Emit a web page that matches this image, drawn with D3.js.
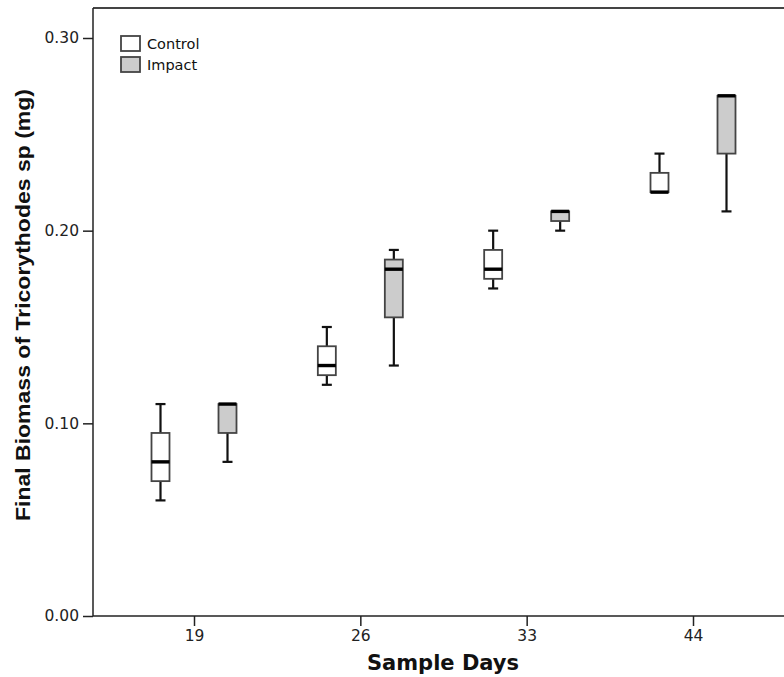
<!DOCTYPE html>
<html>
<head>
<meta charset="utf-8">
<script src="https://cdn.jsdelivr.net/npm/d3@7"></script>
<style>
  html, body { margin: 0; padding: 0; background: #fff; }
  svg { display: block; }
</style>
</head>
<body>
<svg id="chart" width="784" height="677"></svg>
<script>
// Sample days on the x axis
const days = ["19", "26", "33", "44"];
const groups = ["Control", "Impact"];

// Five-number summaries per day: [min, q1, median, q3, max]
const controlStats = [
  [0.06, 0.07, 0.08, 0.095, 0.11],
  [0.12, 0.125, 0.13, 0.14, 0.15],
  [0.17, 0.175, 0.18, 0.19, 0.20],
  [0.22, 0.22, 0.22, 0.23, 0.24]
];
const impactStats = [
  [0.08, 0.095, 0.11, 0.11, 0.11],
  [0.13, 0.155, 0.18, 0.185, 0.19],
  [0.20, 0.205, 0.21, 0.21, 0.21],
  [0.21, 0.24, 0.27, 0.27, 0.27]
];
const yTicks = [0, 0.10, 0.20, 0.30];

const fills = { Control: "#ffffff", Impact: "#cccccc" };

const svg = d3.select("#chart");
const plot = { left: 93, top: 8, bottom: 616, right: 800 };

const y = d3.scaleLinear().domain([0, 0.30]).range([plot.bottom, 38]);
const x = d3.scalePoint().domain(days).range([194, 693]);
const offset = d3.scalePoint().domain(groups).range([-33.5, 33.5]);
const boxW = 18, capW = 10;

// Frame: top edge and clipped right side
svg.append("line")
  .attr("x1", plot.left).attr("x2", plot.right)
  .attr("y1", plot.top).attr("y2", plot.top)
  .attr("stroke", "#444").attr("stroke-width", 2);

// Y axis
const yAxis = d3.axisLeft(y).tickValues(yTicks).tickFormat(d3.format(".2f"))
  .tickSize(10).tickSizeOuter(0).tickPadding(4);
const gy = svg.append("g").attr("transform", `translate(${plot.left},0)`).call(yAxis);
gy.select(".domain").remove();
gy.selectAll(".tick line").attr("stroke", "#222").attr("stroke-width", 1.5);
gy.selectAll(".tick text").attr("font-family", "DejaVu Sans").attr("font-size", 15.5).attr("fill", "#222");
svg.append("line")
  .attr("x1", plot.left).attr("x2", plot.left)
  .attr("y1", plot.top).attr("y2", plot.bottom)
  .attr("stroke", "#222").attr("stroke-width", 1.5);

// X axis
const xAxis = d3.axisBottom(x).tickSize(10).tickSizeOuter(0).tickPadding(4);
const gx = svg.append("g").attr("transform", `translate(0,${plot.bottom})`).call(xAxis);
gx.select(".domain").remove();
gx.selectAll(".tick line").attr("stroke", "#222").attr("stroke-width", 1.5);
gx.selectAll(".tick text").attr("font-family", "DejaVu Sans").attr("font-size", 15.5).attr("fill", "#222");
svg.append("line")
  .attr("x1", plot.left).attr("x2", plot.right)
  .attr("y1", plot.bottom).attr("y2", plot.bottom)
  .attr("stroke", "#222").attr("stroke-width", 1.5);

// Axis titles
svg.append("text")
  .attr("x", 443).attr("y", 670)
  .attr("text-anchor", "middle")
  .attr("font-family", "DejaVu Sans").attr("font-weight", "bold").attr("font-size", 21)
  .attr("fill", "#111")
  .text("Sample Days");
svg.append("text")
  .attr("transform", "translate(30,305) rotate(-90)")
  .attr("text-anchor", "middle")
  .attr("font-family", "Liberation Sans").attr("font-weight", "bold").attr("font-size", 20.5)
  .attr("textLength", 432).attr("lengthAdjust", "spacingAndGlyphs")
  .attr("fill", "#111")
  .text("Final Biomass of Tricorythodes sp (mg)");

// Box plots
const series = [
  { name: "Control", stats: controlStats },
  { name: "Impact", stats: impactStats }
];
series.forEach(s => {
  const g = svg.append("g").attr("class", "series-" + s.name);
  s.stats.forEach((st, i) => {
    const [mn, q1, med, q3, mx] = st;
    const cx = x(days[i]) + offset(s.name);
    const bx = g.append("g");
    // lower whisker
    if (mn < q1) {
      bx.append("line").attr("x1", cx).attr("x2", cx).attr("y1", y(q1)).attr("y2", y(mn))
        .attr("stroke", "#111").attr("stroke-width", 2.2);
      bx.append("line").attr("x1", cx - capW / 2).attr("x2", cx + capW / 2)
        .attr("y1", y(mn)).attr("y2", y(mn)).attr("stroke", "#111").attr("stroke-width", 2.2);
    }
    // upper whisker
    if (mx > q3) {
      bx.append("line").attr("x1", cx).attr("x2", cx).attr("y1", y(q3)).attr("y2", y(mx))
        .attr("stroke", "#111").attr("stroke-width", 2.2);
      bx.append("line").attr("x1", cx - capW / 2).attr("x2", cx + capW / 2)
        .attr("y1", y(mx)).attr("y2", y(mx)).attr("stroke", "#111").attr("stroke-width", 2.2);
    }
    // box
    bx.append("rect")
      .attr("x", cx - boxW / 2).attr("width", boxW)
      .attr("y", y(q3)).attr("height", y(q1) - y(q3))
      .attr("fill", fills[s.name]).attr("stroke", "#444").attr("stroke-width", 1.8);
    // median
    bx.append("line").attr("x1", cx - boxW / 2).attr("x2", cx + boxW / 2)
      .attr("y1", y(med)).attr("y2", y(med)).attr("stroke", "#000").attr("stroke-width", 3.4);
  });
});

// Legend
const legend = svg.append("g").attr("transform", "translate(121,36)");
groups.forEach((name, i) => {
  const row = legend.append("g").attr("transform", `translate(0,${i * 21})`);
  row.append("rect").attr("x", 0).attr("y", 0).attr("width", 19).attr("height", 15)
    .attr("fill", fills[name]).attr("stroke", "#444").attr("stroke-width", 1.8);
  row.append("text").attr("x", 26).attr("y", 12.5)
    .attr("font-family", "DejaVu Sans").attr("font-size", 14.5).attr("fill", "#111")
    .text(name);
});
</script>
</body>
</html>
